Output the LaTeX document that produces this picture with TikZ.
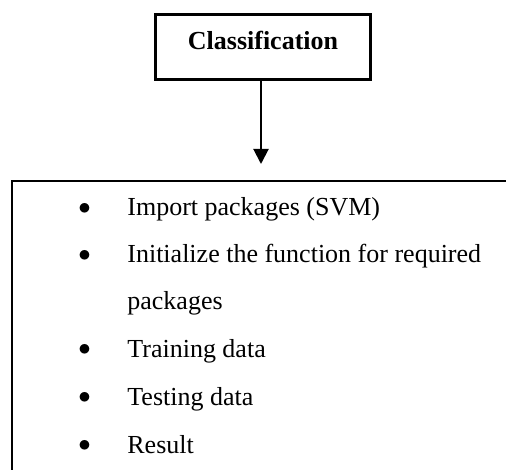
\documentclass[tikz,border=0pt]{standalone}
\usepackage{fontspec}
\setmainfont{Liberation Serif}
\usetikzlibrary{positioning,arrows.meta}

\tikzset{every picture/.style={line width=0.75pt}}
\tikzset{
  listtext/.style={anchor=base west,inner sep=0pt,font=\fontsize{26}{31}\selectfont},
  listdot/.style={anchor=center,inner sep=0pt,font=\fontsize{25}{30}\selectfont}
}

\begin{document}
\begin{tikzpicture}[x=1pt,y=1pt,yscale=-1,xscale=1]
\useasboundingbox (0,0) rectangle (506,470);
\clip (0,0) rectangle (506,470);

%Shape: Rectangle [classification]
\node [draw,line width=2.6pt,minimum width=215pt,minimum height=65.4pt,inner sep=0pt] (classify) at (263,47) {};
% Text Node
\node [anchor=base,inner sep=0pt,font=\fontsize{26}{31}\selectfont\bfseries] (title) at (263,49.5) {Classification};

%Shape: Rectangle [steps]
\node [draw,line width=2.2pt,anchor=north west,minimum width=520pt,minimum height=320pt,inner sep=0pt] (steps) at (10.7,180) {};

%Straight Lines [arrow]
\coordinate (tip) at (261,164);
\draw [line width=2pt,-{Triangle[width=15pt,length=15pt]}] ([xshift=-2pt]classify.south) -- (tip);

% Text Node
\node [listdot] (dot1) at (84.5,208.5) {$\bullet$};
\node [listtext] (item1) at (127,216) {Import packages (SVM)};
% Text Node
\node [listdot] (dot2) at (84.5,255.5) {$\bullet$};
\node [listtext] (item2) at (127,263) {Initialize the function for required};
\node [listtext] (item2b) at (127,310) {packages};
% Text Node
\node [listdot] (dot3) at (84.5,349.5) {$\bullet$};
\node [listtext] (item3) at (127,357) {Training data};
% Text Node
\node [listdot] (dot4) at (84.5,397.5) {$\bullet$};
\node [listtext] (item4) at (127,405) {Testing data};
% Text Node
\node [listdot] (dot5) at (84.5,445.5) {$\bullet$};
\node [listtext] (item5) at (127,453) {Result};

\end{tikzpicture}
\end{document}
